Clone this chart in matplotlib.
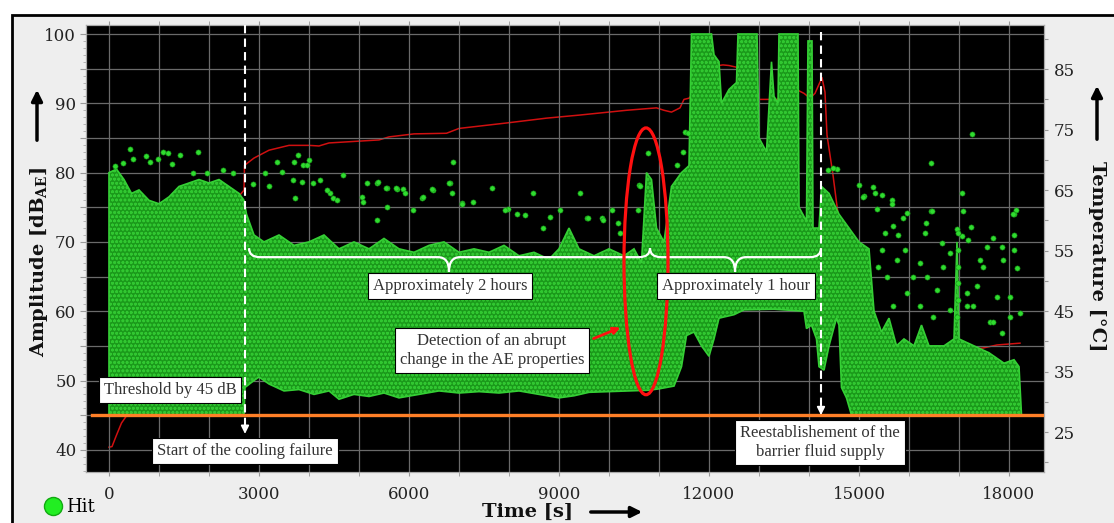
import numpy as np
import matplotlib
matplotlib.use("Agg")
import matplotlib.pyplot as plt
from matplotlib.patches import Ellipse, Rectangle, PathPatch
from matplotlib.path import Path
from matplotlib.lines import Line2D

plt.rcParams['mathtext.fontset'] = 'dejavuserif'
plt.rcParams['hatch.linewidth'] = 0.8

# dense hit cloud: upper and lower edge (time [s], amplitude [dB])
cloud_top_t = [0, 150, 300, 450, 600, 800, 1000, 1200, 1400, 1600, 1800, 2000, 2200, 2400, 2600, 2700,
               2750, 2900, 3100, 3400, 3700, 4000, 4300, 4600, 4900, 5200, 5500, 5800, 6100, 6400, 6700,
               7000, 7300, 7600, 7900, 8200, 8500, 8800, 9000, 9200, 9400, 9700, 10000, 10300, 10500,
               10650, 10750, 10850, 10950, 11100, 11250, 11450, 11600, 11650, 12050, 12100, 12200, 12250,
               12400, 12550, 12580, 12960, 13000, 13150, 13250, 13300, 13380, 13400, 13780, 13800, 13950,
               13980, 14060, 14080, 14200, 14250, 14400, 14600, 14800, 15000, 15200, 15300, 15450, 15600,
               15750, 15900, 16100, 16250, 16400, 16700, 16900, 16960, 17000, 17300, 17600, 17900, 18100,
               18200, 18250]
cloud_top_db = [80, 80.5, 79, 77, 77.5, 76, 75.5, 76.5, 78, 78.5, 79, 78.5, 79, 78, 77, 76,
                74, 71, 70, 71, 69.5, 70, 71, 69, 70, 69, 70.5, 69, 68.5, 69.5, 70,
                68.5, 69, 68.5, 69.5, 68, 68.5, 67.5, 69, 72, 69, 68, 69, 68, 69,
                67, 80, 79, 72, 70, 78, 80, 81, 100, 100, 97, 96, 90,
                92, 93, 100, 100, 85, 83, 96, 91, 90, 100, 100, 75, 73,
                99, 99, 72, 72, 78, 77, 74, 72, 70, 69, 60, 57, 59,
                55, 56, 55, 58, 55, 55, 56, 70, 56, 55, 54, 52.5, 53,
                52, 45]
cloud_bot_t = [0, 2700, 2720, 2900, 3000, 3200, 3500, 3800, 4100, 4400, 4600, 4900, 5200, 5500, 5800,
               6200, 6600, 7000, 7400, 7800, 8200, 8600, 9000, 9300, 9600, 10000, 10400, 10800, 11000,
               11300, 11450, 11550, 11700, 11850, 12000, 12100, 12200, 12500, 12700, 13300, 13900, 13950,
               14050, 14150, 14200, 14300, 14400, 14550, 14600, 14650, 14750, 14850, 18250]
cloud_bot_db = [45, 45, 49, 50, 50.5, 49.5, 48.5, 48.7, 48, 48.5, 47.3, 48, 47.7, 48.2, 47.5,
                48, 48.5, 48.2, 48.4, 48.2, 48.5, 48, 47.5, 47.8, 48.3, 48.4, 48.5, 48.6, 48.8,
                49.2, 52, 56.5, 57, 55, 53.5, 56, 59, 59.5, 60.2, 60.3, 60, 57.5,
                58, 56, 52, 51.5, 55, 59, 58, 49, 47.5, 45, 45]

# single hits outside the dense cloud
hit_t = [420, 280, 480, 740, 1080, 1180, 1420, 1780, 980, 820, 1680, 1960, 2280, 2480, 1260, 120,
         3360, 3700, 3780, 3880, 4000, 3860, 4080, 4220, 4680, 5160, 5360, 5560, 3720, 4420, 4480, 5060,
         3120, 6880, 6820, 5380, 5760, 5880, 6480, 6260, 7660, 7280, 7060, 6860, 5560, 5360, 5080, 6080,
         4360, 4560, 3960, 3680, 3460, 3200, 2880, 6800, 5540, 5740, 5920, 6280, 6460, 7060, 8480, 9420,
         7980, 8160, 9020, 9560, 9860, 10060, 10220, 10580, 10600, 11520, 11480, 11360, 10620, 10780,
         11580, 7920, 8320, 8680, 8820, 9580, 9880, 10180,
         17260, 16440, 17060, 15000, 15280, 15460, 15660, 16440, 17080, 18140, 18100, 15320, 15100, 14560,
         14380, 14480, 15080, 15360, 15660, 15960, 15880, 16460, 16340, 17240, 18080, 15680, 15520, 15780,
         15920, 16320, 16660, 16960, 17060, 17180, 17420, 17560, 17680, 17860, 17880, 18100, 18100, 18160,
         18220, 18020, 17480, 17360, 17760, 17620, 17160, 16820, 16560, 16360, 16220, 16080, 15760, 15560,
         15460, 15380, 15960, 16220, 16480, 15680, 16680, 16820, 16980, 16980, 16980, 16980, 16980, 16960,
         17160, 17280, 17680, 17860, 18020]
hit_db = [83.4, 81.4, 82, 82.4, 83, 82.9, 82.6, 83, 82, 81.6, 80, 80, 80.4, 80, 81.3, 80.9,
          81.6, 81.6, 82.6, 81.1, 81.8, 78.7, 78.5, 79, 79.7, 78.5, 78.5, 77.8, 76.4, 77.1, 76.4, 76.5,
          80, 81.6, 78.5, 78.7, 77.7, 77.7, 77.5, 76.4, 77.8, 75.8, 75.6, 77.1, 75.1, 73.2, 75.8, 74.6,
          77.5, 76.1, 81.1, 79, 80.1, 78, 78.3, 78.5, 77.8, 77.8, 77.1, 76.5, 77.7, 75.5, 77, 77.1,
          74.8, 74.1, 74.6, 73.4, 73.4, 74.6, 71.3, 74.6, 78.2, 85.8, 83, 81.1, 78.1, 82.9,
          85.7, 74.6, 73.9, 72, 73.6, 73.5, 73.2, 72.8,
          85.6, 81.4, 77.1, 78.2, 77.9, 76.8, 76, 74.4, 74.5, 74.6, 74.1, 77.1, 76.6, 80.5,
          80.4, 80.6, 76.5, 74.8, 75.4, 74.2, 73.5, 74.4, 72.8, 72.2, 74.1, 72.3, 71.3, 71,
          68.9, 71.3, 69.8, 71.8, 70.8, 70.3, 67.4, 69.3, 70.6, 69.3, 67.4, 68.9, 71, 66.3,
          59.8, 62.1, 66.4, 63.6, 62.1, 58.4, 60.7, 60.2, 63.1, 65, 67, 65, 67.4, 65,
          68.9, 66.4, 62.7, 60.7, 59.2, 60.7, 66.4, 68.4, 68.9, 71.3, 66.4, 64.1, 61.6, 59.2,
          62.7, 60.7, 58.4, 56.9, 59.2]

# temperature of the barrier fluid
temp_t = [0, 60, 150, 250, 360, 600, 1000, 1500, 2000, 2500, 2700, 2710, 2900, 3200, 3600, 4000, 4200,
          4400, 5000, 5400, 5600, 6100, 6750, 7000, 7950, 8750, 9400, 10350, 10950, 11100, 11250, 11420,
          11500, 11600, 11900, 12100, 12280, 12400, 12560, 12700, 12980, 13360, 13600, 13780, 13900,
          14020, 14120, 14200, 14260, 14320, 14360, 14480, 14620, 14800, 15000, 15200, 15360, 15620,
          15880, 16500, 17000, 17480, 17760, 18220]
temp_c = [22.5, 22.6, 24.5, 26.5, 27.8, 32, 40, 50, 58, 63, 65, 69.1, 70.3, 71.6, 72.4, 72.4, 72.3,
          72.8, 73.1, 73.3, 73.8, 74.3, 74.4, 75.2, 76.1, 76.9, 77.4, 78.2, 78.6, 78.2, 77.9, 78.6,
          80, 80.2, 83, 85.5, 85.7, 85.6, 85.3, 84, 80, 80, 81, 81.5, 81,
          80.2, 81, 82.5, 83.6, 81.2, 74.1, 67.5, 58.5, 52, 46, 42.5, 40.7, 38.6,
          38.3, 38.2, 38.5, 38.9, 39.4, 39.7]

threshold_db = 45
cooling_fail_t = 2720
reestablish_t = 14240

W, H = 1114, 523
fig = plt.figure(figsize=(W / 100, H / 100), dpi=100)
fig.patch.set_facecolor('white')
fig.add_artist(Rectangle((12 / W, -0.1), 1.2, 1 - 15 / H + 0.1, transform=fig.transFigure,
                         facecolor='#eeeeee', edgecolor='black', lw=2, zorder=-10))

ax = fig.add_axes([86 / W, 1 - 472 / H, (1044 - 86) / W, 447 / H])
ax2 = ax.twinx()
ax.set_zorder(2)
ax2.set_zorder(1)
ax.patch.set_visible(False)
ax2.patch.set_visible(True)
ax2.patch.set_facecolor('black')

# hits
poly_t = cloud_top_t + cloud_bot_t[::-1]
poly_db = cloud_top_db + cloud_bot_db[::-1]
ax.fill(poly_t, poly_db, fc='#1b9a1b', ec='#31c731', hatch='oooo', lw=0, zorder=2)
ax.fill(poly_t, poly_db, fc='none', ec='#35cf35', lw=1.2, zorder=2)
ax.scatter(hit_t, hit_db, s=14, c='#30dc30', edgecolors='#138a13', linewidths=0.4, zorder=3)

ax.axhline(threshold_db, xmin=6 / 958, color='#ff7f27', lw=2.4, zorder=4)
ax2.plot(temp_t, temp_c, color='#d01010', lw=1.1)

ax.set_xlim(-460, 18700)
ax.set_ylim(36.8, 101.3)
ax2.set_ylim(18.4, 92.3)

tfont = dict(family='DejaVu Serif', size=12)
ax.set_xticks(range(0, 18001, 3000))
ax.set_xticks(range(0, 18001, 1000), minor=True)
ax.set_xticklabels([str(v) for v in range(0, 18001, 3000)], fontdict=tfont)
yt = list(range(40, 101, 5))
ax.set_yticks(yt)
ax.set_yticklabels([str(v) if v % 10 == 0 else '' for v in yt], fontdict=tfont)
ax.set_yticks(range(37, 101), minor=True)
rt = list(range(20, 91, 5))
ax2.set_yticks(rt)
ax2.set_yticklabels([str(v) if v % 10 == 5 else '' for v in rt], fontdict=tfont)

ax.grid(axis='x', which='both', color='#6a6a6a', lw=0.9)
ax.grid(axis='y', which='major', color='#6a6a6a', lw=0.9)
ax.set_axisbelow(True)
ax.tick_params(axis='x', which='both', top=True, direction='out', length=3, color='#999999',
               pad=7, labelcolor='#222222')
ax.tick_params(axis='y', which='major', length=4, color='#999999', pad=3, labelcolor='#222222')
ax.tick_params(axis='y', which='minor', length=2, color='#aaaaaa')
ax2.tick_params(axis='y', length=3, color='#999999', pad=4, labelcolor='#222222')
for a in (ax, ax2):
    for s in a.spines.values():
        s.set_color('#aaaaaa')

# dashed event markers
for t, y_end in ((cooling_fail_t, 41.9), (reestablish_t, 44.6)):
    ax.plot([t, t], [101.3 if t == cooling_fail_t else 100.3, y_end + 1.2], color='white', lw=1.5,
            ls=(0, (4, 2.5)), zorder=6, clip_on=False)
    ax.annotate('', xy=(t, y_end), xytext=(t, y_end + 1.6),
                arrowprops=dict(arrowstyle='-|>', color='white', lw=1.2, mutation_scale=12), zorder=6)


def brace(x0, x1, xm, y, h=1.3, d=2.1, r=220):
    verts = [(x0, y + h), (x0, y), (x0 + r, y), (xm - r, y), (xm, y), (xm, y - d),
             (xm, y), (xm + r, y), (x1 - r, y), (x1, y), (x1, y + h)]
    codes = [Path.MOVETO, Path.CURVE3, Path.CURVE3, Path.LINETO, Path.CURVE3, Path.CURVE3,
             Path.CURVE3, Path.CURVE3, Path.LINETO, Path.CURVE3, Path.CURVE3]
    ax.add_patch(PathPatch(Path(verts, codes), fc='none', ec='white', lw=1.6, zorder=6))


brace(2800, 10820, 6800, 67.8)
brace(10820, 14240, 12520, 67.8)

ax.add_patch(Ellipse((10740, 67.2), 880, 38.5, fill=False, ec='#ff1010', lw=2.3, zorder=7))

bfont = dict(family='Liberation Serif', size=12, color='#333333', zorder=8)
box = dict(boxstyle='square,pad=0.3', fc='white', ec='black', lw=0.8)
ax.text(1220, 48.7, 'Threshold by 45 dB', ha='center', va='center', bbox=box, **bfont)
ax.text(2720, 39.8, 'Start of the cooling failure', ha='center', va='center', bbox=box, **bfont)
ax.text(6820, 63.6, 'Approximately 2 hours', ha='center', va='center', bbox=box, **bfont)
ax.text(12540, 63.6, 'Approximately 1 hour', ha='center', va='center', bbox=box, **bfont)
ax.text(7660, 54.3, 'Detection of an abrupt\nchange in the AE properties', ha='center', va='center',
        bbox=box, linespacing=1.25, **bfont)
ax.text(14220, 41.0, 'Reestablishement of the\nbarrier fluid supply', ha='center', va='center',
        bbox=box, linespacing=1.25, **bfont)
ax.annotate('', xy=(10280, 57.8), xytext=(9640, 55.9),
            arrowprops=dict(arrowstyle='-|>', color='#ff1010', lw=2, mutation_scale=10), zorder=8)

# axis labels with arrows
lfont = dict(family='DejaVu Serif', size=14, weight='bold', color='#111111')
fig.text(39 / W, 1 - 262 / H, r'Amplitude [dB$_{\mathbf{AE}}$]', rotation=90, ha='center', va='center', **lfont)
fig.text(1097 / W, 1 - 256 / H, 'Temperature [°C]', rotation=270, ha='center', va='center', **lfont)
fig.text(528 / W, 1 - 512 / H, 'Time [s]', ha='center', va='center', **lfont)
arr = dict(arrowstyle='-|>', color='black', lw=2.5, mutation_scale=16)
ax.annotate('', xy=(37, H - 87), xycoords='figure pixels', xytext=(37, H - 143),
            textcoords='figure pixels', arrowprops=arr, annotation_clip=False)
ax.annotate('', xy=(1097, H - 83), xycoords='figure pixels', xytext=(1097, H - 142),
            textcoords='figure pixels', arrowprops=arr, annotation_clip=False)
ax.annotate('', xy=(645, H - 512), xycoords='figure pixels', xytext=(588, H - 512),
            textcoords='figure pixels', arrowprops=arr, annotation_clip=False)

ax.legend(handles=[Line2D([], [], ls='none', marker='o', ms=13, mfc='#22ee22', mec='#11aa11')],
          labels=['Hit'], loc='center left', bbox_to_anchor=(44 / W, 16 / H), bbox_transform=fig.transFigure,
          frameon=False, prop=dict(family='DejaVu Serif', size=13), handletextpad=0.2, borderpad=0,
          handlelength=1, borderaxespad=0)

fig.savefig('out.png', dpi=100, facecolor=fig.get_facecolor())
